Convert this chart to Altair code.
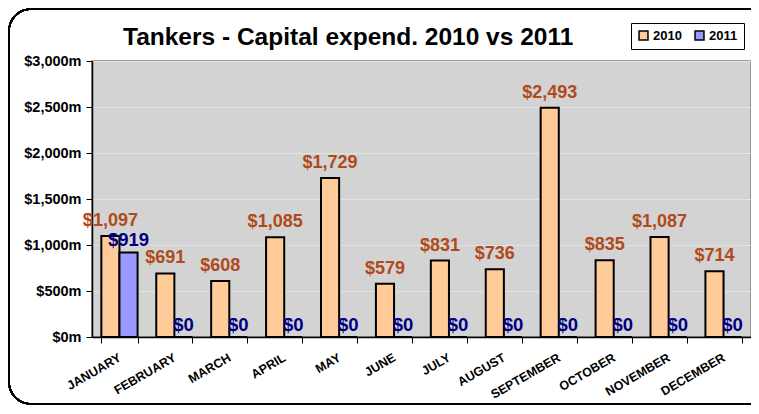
import altair as alt
import pandas as pd

months = ["JANUARY", "FEBRUARY", "MARCH", "APRIL", "MAY", "JUNE", "JULY",
          "AUGUST", "SEPTEMBER", "OCTOBER", "NOVEMBER", "DECEMBER"]
capex_2010 = [1097, 691, 608, 1085, 1729, 579, 831, 736, 2493, 835, 1087, 714]
capex_2011 = [919, 0, 0, 0, 0, 0, 0, 0, 0, 0, 0, 0]
series = ["2010", "2011"]
y_ticks = [0, 500, 1000, 1500, 2000, 2500, 3000]

rows = []
for m, a, b in zip(months, capex_2010, capex_2011):
    rows.append({"month": m, "series": "2010", "value": a, "label": "$" + format(a, ",")})
    rows.append({"month": m, "series": "2011", "value": b, "label": "$" + format(b, ",")})
df = pd.DataFrame(rows)

FONT = "Liberation Sans"

x_enc = alt.X("month:N", sort=months, title=None,
              scale=alt.Scale(paddingInner=0.34, paddingOuter=0.17),
              axis=alt.Axis(labelAngle=-30, labelAlign="right", labelBaseline="top",
                            labelFontSize=12.5, labelFontWeight="bold", labelFont=FONT,
                            labelColor="black", labelPadding=8, labelOffset=-3,
                            tickBand="extent",
                            tickColor="black", tickSize=6, domainColor="black",
                            domainWidth=1.5, grid=False))
xo_enc = alt.XOffset("series:N", sort=series, scale=alt.Scale(paddingInner=0, paddingOuter=0))
y_enc = alt.Y("value:Q", title=None,
              scale=alt.Scale(domain=[0, 3000], nice=False),
              axis=alt.Axis(values=y_ticks,
                            labelExpr="'$' + format(datum.value, ',') + 'm'",
                            labelFontSize=14.5, labelFontWeight="bold", labelFont=FONT,
                            labelColor="black", labelPadding=5, tickSize=6,
                            tickColor="black", domainColor="black", domainWidth=1.5,
                            grid=True, gridColor="#E2E2E2", gridWidth=1))

frame = alt.Chart(df).mark_rect(fill=None, stroke="black", strokeWidth=1.5,
                                cornerRadius=22).encode(
    x=alt.value(-83), x2=alt.value(700), y=alt.value(-52), y2=alt.value(343))

bars = alt.Chart(df).mark_bar(stroke="black", strokeWidth=2).encode(
    x=x_enc, xOffset=xo_enc, y=y_enc,
    color=alt.Color("series:N", sort=series,
                    scale=alt.Scale(domain=series, range=["#FFCC99", "#9999FF"]),
                    legend=alt.Legend(title=None, orient="none", direction="horizontal",
                                      legendX=539, legendY=-38,
                                      symbolType="square", symbolSize=80,
                                      symbolStrokeColor="black", symbolStrokeWidth=1.5,
                                      labelFontSize=13, labelFontWeight="bold",
                                      labelFont=FONT, labelColor="black",
                                      strokeColor="black", fillColor="white",
                                      padding=6, columnPadding=10, labelOffset=3)),
)

labels_2010 = alt.Chart(df).transform_filter(alt.datum.series == "2010").mark_text(
    baseline="bottom", dy=-6, fontSize=18, fontWeight="bold", font=FONT, color="#B04A1A"
).encode(x=alt.X("month:N", sort=months), xOffset=alt.XOffset("series:N", sort=series),
         y="value:Q", text="label:N")

labels_2011 = alt.Chart(df).transform_filter(alt.datum.series == "2011").mark_text(
    baseline="middle", dy=-12, fontSize=18.5, fontWeight="bold", font=FONT, color="#000080"
).encode(x=alt.X("month:N", sort=months), xOffset=alt.XOffset("series:N", sort=series),
         y="value:Q", text="label:N")

chart = alt.layer(frame, bars, labels_2010, labels_2011).properties(
    width=659, height=276,
    autosize=alt.AutoSizeParams(type="none"),
    padding={"left": 84, "top": 53, "right": 0, "bottom": 69},
    title=alt.TitleParams("Tankers - Capital expend. 2010 vs 2011", anchor="start",
                          frame="group", dx=31, dy=54, offset=12, fontSize=24.5,
                          fontWeight="bold", font=FONT, color="black"),
).configure(background="white").configure_view(
    fill="#D3D3D3", stroke="#808080", strokeWidth=1.5)

chart.save("out.html", embed_options={"renderer": "svg", "actions": False})
